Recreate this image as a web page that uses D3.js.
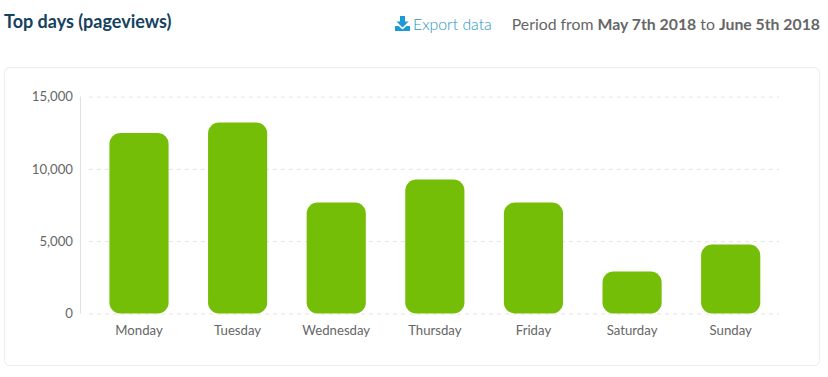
<!DOCTYPE html>
<html>
<head>
<meta charset="utf-8">
<script src="https://cdnjs.cloudflare.com/ajax/libs/d3/7.8.5/d3.min.js"></script>
<style>
  html, body { margin: 0; padding: 0; background: #fff; }
  svg { display: block; font-family: Lato, sans-serif; }
  .axis-text text { font-family: Lato, sans-serif; font-size: 13.2px; fill: #666; }
  .axis-text path, .axis-text line { display: none; }
  .grid-line line { stroke: #e4e4e4; stroke-dasharray: 4 4; }
  .grid-line path { display: none; }
</style>
</head>
<body>
<div id="chart"></div>
<script>
const days = ["Monday", "Tuesday", "Wednesday", "Thursday", "Friday", "Saturday", "Sunday"];
const pageviews = [12470, 13200, 7670, 9260, 7670, 2900, 4770];
const yTicks = [0, 5000, 10000, 15000];

const svg = d3.select("#chart").append("svg")
    .attr("width", 828)
    .attr("height", 377);

// --- header ---
svg.append("text")
    .attr("x", 4).attr("y", 28)
    .attr("font-size", 18).attr("font-weight", 700).attr("fill", "#14425f")
    .text("Top days (pageviews)");

// download icon
const icon = svg.append("g").attr("transform", "translate(395,16)").attr("fill", "#1b9ad6");
icon.append("path").attr("d", "M5 0h5v5.5h3.5L7.5 11.5 1.5 5.5H5z");
icon.append("path").attr("d", "M0 10h3.5l4 3.5 4-3.5H15v5H0z");

svg.append("text")
    .attr("x", 413).attr("y", 30)
    .attr("font-size", 15.8).attr("font-weight", 300).attr("fill", "#2a93c4")
    .text("Export data");

const period = svg.append("text")
    .attr("x", 820).attr("y", 30)
    .attr("text-anchor", "end")
    .attr("font-size", 15.8).attr("fill", "#666");
period.append("tspan").text("Period from ");
period.append("tspan").attr("font-weight", 700).text("May 7th 2018");
period.append("tspan").text(" to ");
period.append("tspan").attr("font-weight", 700).text("June 5th 2018");

// --- card ---
svg.append("rect")
    .attr("x", 4.5).attr("y", 67.5)
    .attr("width", 815).attr("height", 298)
    .attr("rx", 5)
    .attr("fill", "#fff").attr("stroke", "#ececec");

// --- chart ---
const x = d3.scaleBand().domain(days).range([89.7, 780]).padding(0.4).paddingOuter(0.2);
const y = d3.scaleLinear().domain([0, 15000]).range([313.5, 96.5]);

svg.append("g")
    .attr("class", "grid-line")
    .attr("transform", "translate(89,0)")
    .call(d3.axisLeft(y).tickValues(yTicks).tickSize(-690).tickFormat(""));

// y-as lijn
svg.append("line")
    .attr("x1", 80.5).attr("x2", 80.5)
    .attr("y1", y(15000)).attr("y2", y(0))
    .attr("stroke", "#e0e0e0");

svg.selectAll(".bar").data(days).enter().append("rect")
    .attr("class", "bar")
    .attr("fill", "#75be08")
    .attr("rx", 11)
    .attr("x", d => x(d))
    .attr("width", x.bandwidth())
    .attr("y", (d, i) => y(pageviews[i]))
    .attr("height", (d, i) => y(0) - y(pageviews[i]));

svg.append("g")
    .attr("class", "axis-text")
    .attr("transform", "translate(80,0)")
    .call(d3.axisLeft(y).tickValues(yTicks).tickSize(0).tickPadding(7).tickFormat(d3.format(",")));

svg.append("g")
    .attr("class", "axis-text")
    .attr("transform", "translate(0,313)")
    .call(d3.axisBottom(x).tickSize(0).tickPadding(13));
</script>
</body>
</html>
